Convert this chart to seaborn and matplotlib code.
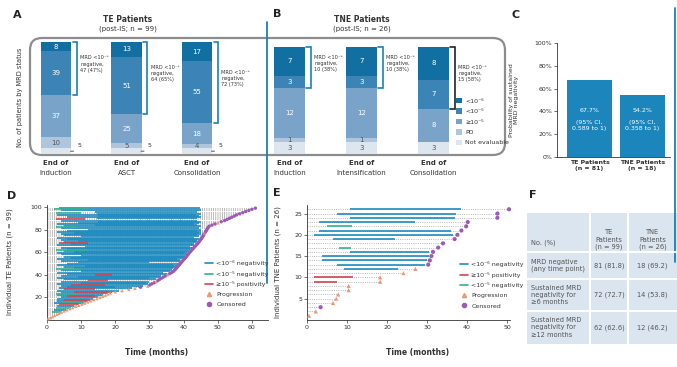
import numpy as np
import pandas as pd
import seaborn as sns
import matplotlib.pyplot as plt
from matplotlib.patches import FancyBboxPatch, Rectangle, Patch
from matplotlib.lines import Line2D

# ---- data -------------------------------------------------------------
# A / B: MRD status at each time point (No. of patients), levels top -> bottom
mrd_levels = ["<10⁻⁶", "<10⁻⁵", "≥10⁻⁵", "PD", "Not evaluable"]
te_points = ["Induction", "ASCT", "Consolidation"]
te_neg6 = [8, 13, 17]
te_neg5 = [39, 51, 55]
te_pos = [37, 25, 18]
te_pd = [10, 5, 4]
te_ne = [5, 5, 5]
tne_points = ["Induction", "Intensification", "Consolidation"]
tne_neg6 = [7, 7, 8]
tne_neg5 = [3, 3, 7]
tne_pos = [12, 12, 8]
tne_pd = [1, 1, 0]
tne_ne = [3, 3, 3]

# C: sustained MRD negativity
c_groups = ["TE Patients\n(n = 81)", "TNE Patients\n(n = 18)"]
c_rate = [67.7, 54.2]
c_ci_low = [0.589, 0.358]

# D: swimmer, TE patients (row 1 = bottom)
te_end = [0.3, 1.0, 1.6, 2.2, 2.9, 3.5, 4.2, 5.0, 5.8, 6.7,
          7.5, 8.4, 9.3, 10.2, 11.0, 11.9, 12.8, 13.7, 14.6, 15.5,
          16.3, 17.1, 17.8, 18.5, 20.0, 22.0, 24.0, 25.8, 27.4, 29.5,
          30.1, 30.7, 31.4, 32.0, 32.5, 33.0, 33.5, 34.1, 34.7, 35.3,
          35.9, 36.5, 37.0, 37.3, 37.6, 37.9, 38.2, 38.5, 38.8, 39.0,
          39.3, 39.6, 39.9, 40.2, 40.5, 40.8, 41.0, 41.3, 41.5, 41.8,
          42.1, 42.4, 42.7, 43.0, 43.3, 43.6, 43.9, 44.2, 44.4, 44.7,
          44.9, 45.2, 45.4, 45.6, 45.8, 46.0, 46.2, 46.4, 46.6, 46.8,
          47.0, 47.2, 47.5, 48.3, 49.2, 50.1, 51.0, 52.0, 52.7, 53.4,
          54.1, 54.8, 55.5, 56.4, 57.3, 58.2, 59.1, 60.0, 61.0]
te_start = [0, 0, 0, 0, 0, 0, 1.5, 0, 2.0, 0,
            2.5, 3.0, 0, 3.5, 2.0, 4.0, 3.0, 5.0, 3.0, 4.0,
            6.0, 3.0, 2.5, 4.0, 8.0, 3.0, 5.0, 3.5, 6.0, 4.0,
            7.0, 3.0, 10.0, 4.0, 12.0, 5.0, 3.0, 9.0, 4.0, 14.0,
            6.0, 3.0, 10.0, 4.0, 2.5, 8.0, 5.0, 11.0, 3.0, 6.0,
            9.0, 4.0, 12.0, 3.0, 7.0, 5.0, 10.0, 4.0, 3.0, 8.0,
            5.0, 2.5, 6.0, 4.0, 11.0, 3.0, 7.0, 3.5, 5.0, 9.0,
            4.0, 6.0, 3.0, 10.0, 5.0, 4.0, 8.0, 3.0, 6.0, 12.0,
            4.0, 2.5, 5.0, 14.0, 3.0, 9.0, 15.0, 4.0, 2.5, 14.5,
            6.0, 15.0, 3.0, 14.5, 2.5, 14.0, 4.0, 2.0, 3.5]
te_stop = [0, 0, 0, 0, 0, 0, 4.0, 0, 5.5, 0,
           7.0, 8.0, 0, 9.5, 10.5, 11.0, 12.0, 12.5, 13.5, 15.0,
           14.0, 16.5, 9.0, 18.0, 19.0, 21.0, 14.0, 25.0, 20.0, 28.0,
           17.0, 29.5, 29.0, 30.0, 18.0, 32.0, 30.0, 33.0, 33.5, 19.0,
           35.0, 34.0, 36.0, 36.5, 10.0, 37.0, 37.5, 38.0, 37.0, 38.5,
           30.0, 39.0, 39.0, 38.0, 40.0, 40.0, 40.5, 41.0, 40.0, 41.0,
           41.5, 12.0, 42.0, 42.5, 42.0, 43.0, 43.0, 12.0, 43.5, 44.0,
           44.0, 44.5, 43.0, 44.5, 44.0, 45.0, 44.5, 45.0, 44.0, 45.0,
           44.5, 9.0, 45.0, 44.0, 43.0, 44.5, 45.0, 44.0, 11.0, 44.0,
           45.0, 44.5, 43.5, 45.0, 10.0, 44.0, 45.0, 12.0, 44.8]
te_depth = ("------g-b-" "gb-rbgbrbb" "rbgbrbrbbb" "rbbbrbbbbr" "bbbbgbbbbb"
            "bbbbbbbbbb" "bgbbbbbrbb" "bbbbbbbbbb" "bgbbbbbbrb" "bbbbgbbgb")
te_event = ("PPPPPPPPPP" "PPPPPPPPPP" "PPPPPPPPCP" "CCCPCCCCCP" "CCCCCCCCCC"
            "CCCCCCCCCC" "CCCCCCCCCC" "CCCCCCPCCC" "CCCCCPCCCC" "CCCCCCCCC")

# E: swimmer, TNE patients (row 1 = bottom)
tne_end = [0.5, 2.2, 3.4, 6.5, 7.3, 7.8, 10.4, 10.4, 18.3, 18.3, 24.1, 27.1, 30.3,
           30.7, 31.1, 31.5, 32.8, 34.0, 36.9, 37.6, 38.6, 39.8, 40.2, 47.6, 47.6, 50.5]
tne_start = [0, 0, 0, 0, 0, 0, 0, 0, 1.7, 1.7, 0, 9.3, 7.5,
             3.8, 3.8, 10.8, 8.0, 0, 6.5, 1.7, 3.0, 5.0, 3.0, 10.8, 7.5, 10.8]
tne_stop = [0, 0, 0, 0, 0, 0, 0, 0, 7.5, 11.5, 0, 22.8, 29.5,
            30.0, 30.5, 30.5, 11.0, 0, 22.0, 36.5, 36.0, 11.2, 27.0, 37.0, 37.3, 38.5]
tne_depth = "--------rr-bbbbbg-bbbgbbbb"
tne_event = "PPCPPPPPPPPPCCCCCCCCCCCCCC"

# F: table
tab_header = ["No. (%)", "TE\nPatients\n(n = 99)", "TNE\nPatients\n(n = 26)"]
tab_rows = ["MRD negative\n(any time point)",
            "Sustained MRD\nnegativity for\n≥6 months",
            "Sustained MRD\nnegativity for\n≥12 months"]
tab_te = ["81 (81.8)", "72 (72.7)", "62 (62.6)"]
tab_tne = ["18 (69.2)", "14 (53.8)", "12 (46.2)"]

# ---- style ------------------------------------------------------------
sns.set_theme(style="white")
plt.rcParams['font.family'] = ['DejaVu Sans']
seg_colors = ['#116fa1', '#3d84b6', '#79a3c9', '#adc6dd', '#dde5ee']
depth_colors = {'b': '#1f8bc0', 'g': '#34b28e', 'r': '#d6424f'}
ev_colors = {'Progression': '#e89a72', 'Censored': '#9c5ab4'}
ev_markers = {'Progression': '^', 'Censored': 'o'}
txt = '#333333'
blue_line = '#1a80b6'

W, H = 677, 367
fig = plt.figure(figsize=(W / 100, H / 100), dpi=100)


def add_ax(x0, y0, x1, y1):
    ax = fig.add_axes([x0 / W, 1 - y1 / H, (x1 - x0) / W, (y1 - y0) / H])
    ax.patch.set_alpha(0)
    return ax


over = add_ax(0, 0, W, H)
over.set_xlim(0, W)
over.set_ylim(H, 0)
over.axis('off')

# frame around A and B, separators
over.add_patch(FancyBboxPatch((30, 38), 475, 117, boxstyle="round,pad=0,rounding_size=12",
                              fill=False, ec='#8c8c8c', lw=1.6))
over.plot([266.5, 266.5], [22, 283], color=blue_line, lw=1.3)
over.plot([675, 675], [8, 262], color=blue_line, lw=1.3)

for letter, (lx, ly) in zip("ABCDEF", [(17, 15), (277, 14), (516, 15), (12, 196), (277, 193), (533, 195)]):
    over.text(lx, ly, letter, fontsize=8, fontweight='bold', color='#222', ha='center', va='center')

over.text(128, 20, "TE Patients", fontsize=5.5, fontweight='bold', color=txt, ha='center', va='center')
over.text(128, 29, "(post-IS; n = 99)", fontsize=5, color=txt, ha='center', va='center')
over.text(362, 20, "TNE Patients", fontsize=5.5, fontweight='bold', color=txt, ha='center', va='center')
over.text(362, 29, "(post-IS; n = 26)", fontsize=5, color=txt, ha='center', va='center')
over.text(20, 97, "No. of patients by MRD status", fontsize=4.8, color=txt, rotation=90,
          ha='center', va='center')

BW = 0.43


def stacked(ax, counts, cats, callout_bottom, bracket_cols):
    counts = np.array(counts)
    cum = np.cumsum(counts[::-1], axis=0)[::-1]
    for k in range(len(counts)):
        sns.barplot(x=cats, y=cum[k], order=cats, color=seg_colors[k], width=BW,
                    saturation=1, errorbar=None, linewidth=0, ax=ax)
    for i in range(len(cats)):
        for k in range(len(counts)):
            n = counts[k][i]
            if n == 0:
                continue
            mid = cum[k][i] - n / 2
            if callout_bottom and k == len(counts) - 1:
                ax.annotate(str(n), xy=(i + BW / 2 - 0.01, mid), xytext=(i + BW / 2 + 0.09, mid + 5),
                            fontsize=4.5, color=txt, va='center', ha='left',
                            arrowprops=dict(arrowstyle='-', color='#555', lw=0.7, shrinkA=0.5,
                                            shrinkB=0, connectionstyle='arc3,rad=-0.4'))
                continue
            ax.text(i, mid, str(n), color='white' if k < 3 else '#555', ha='center', va='center',
                    fontsize=5)
        top = cum[0][i]
        low = cum[2][i]
        neg = counts[0][i] + counts[1][i]
        xr = i + BW / 2 + 0.02
        xb = xr + 0.06
        ax.plot([xr, xb, xb, xr], [top, top, low, low], color=bracket_cols[i], lw=1.2,
                clip_on=False, solid_joinstyle='miter')
        ax.text(xb + 0.05, (top + low) / 2 + 0.04 * top,
                f"MRD <10⁻⁵\nnegative,\n{neg} ({100 * neg / top:.0f}%)",
                fontsize=3.6, color=txt, ha='left', va='center', linespacing=1.3)
        ax.annotate("End of", xy=(i, 0), xytext=(0, -6.5), textcoords='offset points', ha='center',
                    va='center', fontsize=5, fontweight='bold', color=txt, annotation_clip=False)
        ax.annotate(cats[i], xy=(i, 0), xytext=(0, -13.7), textcoords='offset points', ha='center',
                    va='center', fontsize=5, color=txt, annotation_clip=False)
    ax.axis('off')


# ---- A ----
axa = add_ax(20, 42, 240, 154)
stacked(axa, [te_neg6, te_neg5, te_pos, te_pd, te_ne], te_points, True, [blue_line] * 3)
axa.set_xlim(-0.511, 2.61)
axa.set_ylim(0, 99)

# ---- B ----
axb = add_ax(255, 47, 505, 154)
stacked(axb, [tne_neg6, tne_neg5, tne_pos, tne_pd, tne_ne], tne_points, False,
        [blue_line, blue_line, '#222222'])
axb.set_xlim(-0.479, 2.993)
axb.set_ylim(0, 26)
axb.legend([Patch(fc=c, ec='none') for c in seg_colors], mrd_levels, loc='upper left',
           bbox_to_anchor=(456 / W, 1 - 98 / H), bbox_transform=fig.transFigure, frameon=False,
           fontsize=4.5, handlelength=0.9, handleheight=0.9, handletextpad=0.6, labelspacing=0.75,
           borderpad=0, borderaxespad=0, labelcolor=txt)

# ---- C ----
axc = add_ax(557, 43, 670, 157)
sns.barplot(x=c_groups, y=c_rate, color='#1c86bc', width=0.85, saturation=1, errorbar=None,
            linewidth=0, ax=axc)
for i, (r, lo) in enumerate(zip(c_rate, c_ci_low)):
    axc.text(i, 33, f"{r}%\n\n(95% CI,\n{lo} to 1)", color='white', ha='center', va='center',
             fontsize=4.5, linespacing=1.3)
axc.set_xlim(-0.613, 1.519)
axc.set_ylim(0, 100)
axc.set_yticks(range(0, 101, 20))
axc.set_yticklabels([f"{v}%" for v in range(0, 101, 20)])
axc.set_xlabel("")
axc.set_ylabel("")
over.text(514, 100, "Probability of sustained\nMRD negativity", fontsize=4.5, color=txt, rotation=90,
          ha='center', va='center')


def swimmer(ax, end, start, stop, depth, event, msize):
    rows = np.arange(1, len(end) + 1)
    end = np.array(end)
    start = np.array(start)
    stop = np.array(stop)
    depth = np.array(list(depth))
    ax.hlines(rows, 0, end, colors='#a0a0a0', linestyles=':', linewidth=0.6, zorder=1)
    for code, col in depth_colors.items():
        m = depth == code
        ax.hlines(rows[m], start[m], stop[m], colors=col, linewidth=1.2, zorder=2)
    df = pd.DataFrame({'time': end, 'row': rows,
                       'event': ['Progression' if e == 'P' else 'Censored' for e in event]})
    sns.scatterplot(data=df, x='time', y='row', hue='event', style='event', palette=ev_colors,
                    markers=ev_markers, s=msize, linewidth=0, legend=False, ax=ax, zorder=4,
                    clip_on=False)
    ax.set_xlabel("")
    ax.set_ylabel("")


def style_axis(ax):
    sns.despine(ax=ax)
    for s in ['left', 'bottom']:
        ax.spines[s].set_color('#333')
        ax.spines[s].set_linewidth(0.6)
    ax.tick_params(axis='both', labelsize=4.5, length=2, width=0.5, pad=1.5, colors='#333',
                   left=True, bottom=True)


style_axis(axc)
axc.tick_params(axis='x', length=0, pad=2)
for t in axc.get_xticklabels():
    t.set_fontweight('bold')

# ---- D ----
axd = add_ax(47, 205, 268, 320)
swimmer(axd, te_end, te_start, te_stop, te_depth, te_event, 6)
axd.set_xlim(0, 64.7)
axd.set_ylim(0, 101.8)
axd.set_xticks(range(0, 61, 10))
axd.set_yticks(range(20, 101, 20))
style_axis(axd)
over.text(157, 352, "Time (months)", fontsize=5.5, fontweight='bold', color=txt, ha='center', va='center')
over.text(10, 262, "Individual TE Patients (n = 99)", fontsize=5, color=txt, rotation=90,
          ha='center', va='center')
swim_labels = ["<10⁻⁶ negativity", "<10⁻⁵ negativity", "≥10⁻⁵ positivity", "Progression", "Censored"]
line_h = {k: Line2D([0], [0], color=c, lw=1.2) for k, c in depth_colors.items()}
ev_h = [Line2D([0], [0], ls='', marker='^', color=ev_colors['Progression'], ms=3),
        Line2D([0], [0], ls='', marker='o', color=ev_colors['Censored'], ms=3)]
axd.legend([line_h['b'], line_h['g'], line_h['r']] + ev_h, swim_labels, loc='upper left',
           bbox_to_anchor=(205 / W, 1 - 260 / H), bbox_transform=fig.transFigure, frameon=False,
           fontsize=4.5, handlelength=1.3, handletextpad=0.5, labelspacing=0.75, borderpad=0,
           borderaxespad=0, labelcolor=txt)

# ---- E ----
axe = add_ax(307, 205, 510, 320)
swimmer(axe, tne_end, tne_start, tne_stop, tne_depth, tne_event, 9)
axe.set_xlim(0, 50.75)
axe.set_ylim(0, 27)
axe.set_xticks(range(0, 51, 10))
axe.set_yticks(range(5, 26, 5))
style_axis(axe)
over.text(418, 352, "Time (months)", fontsize=5.5, fontweight='bold', color=txt, ha='center', va='center')
over.text(278, 262, "Individual TNE Patients (n = 26)", fontsize=5, color=txt, rotation=90,
          ha='center', va='center')
axe.legend([line_h['b'], line_h['r'], line_h['g']] + ev_h,
           [swim_labels[0], swim_labels[2], swim_labels[1], swim_labels[3], swim_labels[4]],
           loc='upper left', bbox_to_anchor=(460 / W, 1 - 261 / H), bbox_transform=fig.transFigure,
           frameon=False, fontsize=4.5, handlelength=1.3, handletextpad=0.5, labelspacing=0.75,
           borderpad=0, borderaxespad=0, labelcolor=txt)

# ---- F: table ----
col_x = [527, 590, 628, 677]
row_y = [213, 252, 279, 311, 344]
over.add_patch(Rectangle((col_x[0], row_y[0]), col_x[-1] - col_x[0], row_y[-1] - row_y[0],
                         fc='#dae5ef', ec='none'))
for y in row_y[1:-1]:
    over.plot([col_x[0], col_x[-1]], [y, y], color='white', lw=1.5)
for x in col_x[1:-1]:
    over.plot([x, x], [row_y[0], row_y[-1]], color='white', lw=1.5)
tcol = '#555555'
fs_t = 4.8
over.text(col_x[0] + 4, 243, tab_header[0], fontsize=fs_t, color=tcol, ha='left', va='center')
for j, h in enumerate(tab_header[1:]):
    over.text((col_x[j + 1] + col_x[j + 2]) / 2, 240, h, fontsize=fs_t, color=tcol, ha='center',
              va='center', linespacing=1.25)
for r, (lab, a, b) in enumerate(zip(tab_rows, tab_te, tab_tne)):
    yc = (row_y[r + 1] + row_y[r + 2]) / 2
    over.text(col_x[0] + 4, yc, lab, fontsize=fs_t, color=tcol, ha='left', va='center', linespacing=1.25)
    over.text((col_x[1] + col_x[2]) / 2, yc, a, fontsize=fs_t, color=tcol, ha='center', va='center')
    over.text((col_x[2] + col_x[3]) / 2, yc, b, fontsize=fs_t, color=tcol, ha='center', va='center')

fig.savefig("out.png", dpi=100, facecolor='white')
